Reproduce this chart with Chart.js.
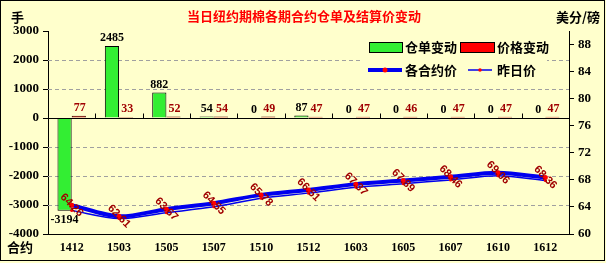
<!DOCTYPE html>
<html>
<head>
<meta charset="utf-8">
<script src="https://cdn.jsdelivr.net/npm/chart.js@4.4.1/dist/chart.umd.min.js"></script>
<style>
  html, body { margin: 0; padding: 0; background: #FFFFCC; }
  #wrap { width: 606px; height: 263px; position: relative; }
</style>
</head>
<body>
<div id="wrap"><canvas id="chart" width="606" height="263"></canvas></div>
<script>
const categories = ['1412', '1503', '1505', '1507', '1510', '1512', '1603', '1605', '1607', '1610', '1612'];
const warrantChange = [-3194, 2485, 882, 54, 0, 87, 0, 0, 0, 0, 0];
const priceChange = [77, 33, 52, 54, 49, 47, 47, 46, 47, 47, 47];
const settlePrice = [64.26, 62.61, 63.67, 64.55, 65.78, 66.51, 67.37, 67.89, 68.46, 69.06, 68.36];
const prevPrice = [63.49, 62.28, 63.15, 64.01, 65.29, 66.04, 66.90, 67.43, 67.99, 68.59, 67.89];
const leftTicks = [3000, 2000, 1000, 0, -1000, -2000, -3000, -4000];
const rightTicks = [60, 64, 68, 72, 76, 80, 84, 88];

const BG = '#FFFFCC';
const CJK = '"Noto Sans CJK SC", sans-serif';
const NUM = '"Liberation Serif", serif';

// background
const backgroundPlugin = {
    id: 'background',
    beforeDraw(chart) {
        const ctx = chart.ctx;
        ctx.save();
        ctx.fillStyle = BG;
        ctx.fillRect(0, 0, chart.width, chart.height);
        ctx.restore();
    }
};

// dashed grid lines, zero line with category ticks
const gridPlugin = {
    id: 'gridLines',
    beforeDatasetsDraw(chart) {
        const ctx = chart.ctx;
        const area = chart.chartArea;
        const y = chart.scales.y;
        ctx.save();
        ctx.strokeStyle = '#A0A0A0';
        ctx.lineWidth = 1;
        ctx.setLineDash([4, 3]);
        leftTicks.forEach(v => {
            if (v === 0 || v === 3000 || v === -4000) return;
            const py = Math.round(y.getPixelForValue(v)) + 0.5;
            ctx.beginPath();
            ctx.moveTo(area.left, py);
            ctx.lineTo(area.right, py);
            ctx.stroke();
        });
        ctx.restore();
    },
    afterDatasetsDraw(chart) {
        const ctx = chart.ctx;
        const area = chart.chartArea;
        const y = chart.scales.y;
        const x = chart.scales.x;
        const zy = Math.round(y.getPixelForValue(0)) + 0.5;
        ctx.save();
        ctx.strokeStyle = '#000';
        ctx.lineWidth = 1;
        ctx.beginPath();
        ctx.moveTo(area.left, zy);
        ctx.lineTo(area.right, zy);
        const step = (x.getPixelForValue(1) - x.getPixelForValue(0));
        for (let i = 1; i < categories.length; i++) {
            const px = Math.round(x.getPixelForValue(i) - step / 2) + 0.5;
            ctx.moveTo(px, zy);
            ctx.lineTo(px, zy - 5);
        }
        ctx.stroke();
        ctx.restore();
    }
};

// value labels on bars and lines
const labelPlugin = {
    id: 'valueLabels',
    afterDatasetsDraw(chart) {
        const ctx = chart.ctx;
        ctx.save();
        ctx.textAlign = 'center';

        const green = chart.getDatasetMeta(0).data;
        ctx.font = 'bold 12px ' + NUM;
        ctx.fillStyle = '#000';
        green.forEach((bar, i) => {
            const v = warrantChange[i];
            if (v < 0) {
                ctx.textBaseline = 'top';
                ctx.fillText(String(v), bar.x, bar.y + 3);
            } else {
                ctx.textBaseline = 'bottom';
                ctx.fillText(String(v), bar.x, bar.y - 2);
            }
        });

        const red = chart.getDatasetMeta(1).data;
        ctx.fillStyle = '#A00000';
        red.forEach((bar, i) => {
            ctx.textBaseline = 'bottom';
            ctx.fillText(String(priceChange[i]), bar.x + 1, bar.y - 2);
        });

        const pts = chart.getDatasetMeta(2).data;
        ctx.font = 'bold 11px "Liberation Sans", sans-serif';
        ctx.fillStyle = '#A00000';
        ctx.textBaseline = 'middle';
        pts.forEach((p, i) => {
            ctx.save();
            ctx.translate(p.x, p.y);
            ctx.rotate(Math.PI / 4);
            ctx.fillText(settlePrice[i].toFixed(2), 0, 0);
            ctx.restore();
        });
        ctx.restore();
    }
};

// title, units, legend, frame
const decorPlugin = {
    id: 'decor',
    afterDraw(chart) {
        const ctx = chart.ctx;
        ctx.save();

        // legend box
        ctx.fillStyle = BG;
        ctx.fillRect(363, 36, 184, 44);
        ctx.font = 'bold 13px ' + CJK;
        ctx.textBaseline = 'middle';
        ctx.textAlign = 'left';

        ctx.fillStyle = '#33EE33';
        ctx.fillRect(369, 42, 33, 10);
        ctx.strokeStyle = '#000';
        ctx.lineWidth = 1;
        ctx.strokeRect(369.5, 42.5, 33, 10);
        ctx.fillStyle = '#000';
        ctx.fillText('仓单变动', 405, 47);

        ctx.fillStyle = '#FF0000';
        ctx.fillRect(460, 42, 34, 10);
        ctx.strokeRect(460.5, 42.5, 34, 10);
        ctx.fillStyle = '#000';
        ctx.fillText('价格变动', 497, 47);

        ctx.strokeStyle = '#0000EE';
        ctx.lineWidth = 4;
        ctx.beginPath();
        ctx.moveTo(368, 70);
        ctx.lineTo(402, 70);
        ctx.stroke();
        ctx.fillStyle = '#FF0000';
        ctx.beginPath();
        ctx.arc(385, 70, 2.5, 0, Math.PI * 2);
        ctx.fill();
        ctx.fillStyle = '#000';
        ctx.fillText('各合约价', 405, 70);

        ctx.strokeStyle = '#0000EE';
        ctx.lineWidth = 1.5;
        ctx.beginPath();
        ctx.moveTo(468, 70);
        ctx.lineTo(492, 70);
        ctx.stroke();
        ctx.fillStyle = '#FF0000';
        ctx.beginPath();
        ctx.arc(480, 70, 1.8, 0, Math.PI * 2);
        ctx.fill();
        ctx.fillStyle = '#000';
        ctx.fillText('昨日价', 497, 70);

        // title and unit texts
        ctx.textAlign = 'center';
        ctx.fillStyle = '#FF0000';
        ctx.fillText('当日纽约期棉各期合约仓单及结算价变动', 304, 16);
        ctx.fillStyle = '#000';
        ctx.textAlign = 'left';
        ctx.fillText('手', 11, 17);
        ctx.fillText('合约', 7, 247);
        ctx.textAlign = 'right';
        ctx.fillText('美分/磅', 600, 17);

        // outer frame
        ctx.strokeStyle = '#000';
        ctx.lineWidth = 1;
        ctx.strokeRect(0.5, 0.5, chart.width - 2, chart.height - 3);
        ctx.restore();
    }
};

const ctx = document.getElementById('chart').getContext('2d');
new Chart(ctx, {
    type: 'bar',
    data: {
        labels: categories,
        datasets: [
            {
                label: '仓单变动',
                data: warrantChange,
                backgroundColor: '#33EE33',
                borderColor: '#000',
                borderWidth: 1,
                categoryPercentage: 0.6,
                barPercentage: 1.0,
                yAxisID: 'y',
                order: 2,
            },
            {
                label: '价格变动',
                data: priceChange,
                backgroundColor: '#E00000',
                borderColor: '#400000',
                borderWidth: 1,
                categoryPercentage: 0.6,
                barPercentage: 1.0,
                yAxisID: 'y',
                order: 2,
            },
            {
                type: 'line',
                label: '各合约价',
                data: settlePrice,
                borderColor: '#0000EE',
                borderWidth: 4,
                pointRadius: 2.5,
                pointBorderWidth: 0,
                pointBackgroundColor: '#FF0000',
                pointBorderColor: '#FF0000',
                tension: 0.3,
                yAxisID: 'y1',
                order: 0,
            },
            {
                type: 'line',
                label: '昨日价',
                data: prevPrice,
                borderColor: '#0000EE',
                borderWidth: 1.5,
                pointRadius: 1.5,
                pointBorderWidth: 0,
                pointBackgroundColor: '#FF0000',
                pointBorderColor: '#FF0000',
                tension: 0.3,
                yAxisID: 'y1',
                order: 1,
            }
        ]
    },
    options: {
        responsive: false,
        animation: false,
        devicePixelRatio: 1,
        layout: { padding: { top: 31, left: 0, right: 0, bottom: 0 } },
        scales: {
            x: {
                grid: { display: false, drawTicks: false },
                border: { display: true, color: '#000' },
                ticks: {
                    font: { family: NUM, size: 12, weight: 'bold' },
                    color: '#000',
                    padding: 7,
                },
                afterFit(scale) { scale.height = 29; }
            },
            y: {
                position: 'left',
                min: -4000,
                max: 3000,
                afterBuildTicks(scale) { scale.ticks = leftTicks.map(v => ({ value: v })); },
                grid: { drawOnChartArea: false, drawTicks: true, tickLength: 5, tickColor: '#000' },
                border: { display: true, color: '#000' },
                ticks: {
                    font: { family: NUM, size: 13, weight: 'bold' },
                    color: '#000',
                    padding: 4,
                    callback: v => String(v),
                },
                afterFit(scale) { scale.width = 48; }
            },
            y1: {
                position: 'right',
                min: 60,
                max: 90,
                afterBuildTicks(scale) { scale.ticks = rightTicks.map(v => ({ value: v })); },
                grid: { drawOnChartArea: false, drawTicks: true, tickLength: 5, tickColor: '#000' },
                border: { display: true, color: '#000' },
                ticks: {
                    font: { family: NUM, size: 13, weight: 'bold' },
                    color: '#000',
                    padding: 4,
                    callback: v => String(v),
                },
                afterFit(scale) { scale.width = 37; }
            }
        },
        plugins: {
            legend: { display: false },
            title: { display: false },
            tooltip: { enabled: false }
        }
    },
    plugins: [backgroundPlugin, gridPlugin, labelPlugin, decorPlugin]
});
</script>
</body>
</html>
